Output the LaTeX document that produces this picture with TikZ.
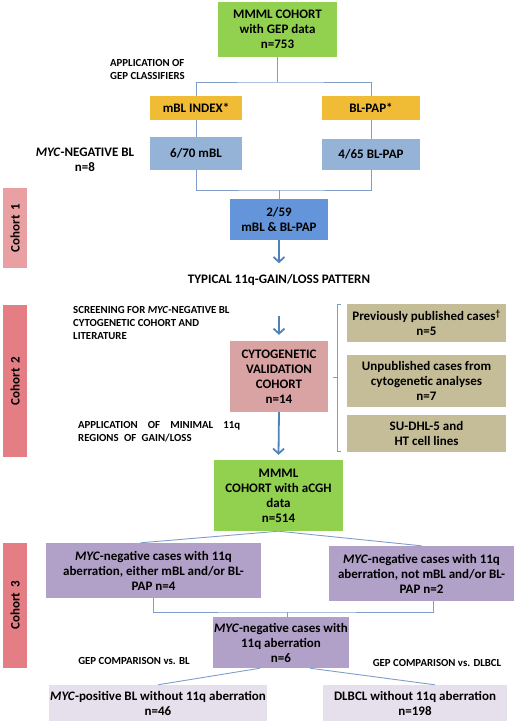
\documentclass[tikz,border=0pt]{standalone}
\usepackage{fontspec}
\setmainfont{Carlito}
\usetikzlibrary{arrows.meta, calc}
\newcommand{\bxfont}{\fontsize{13}{15}\selectfont\bfseries}
\newcommand{\smfont}{\fontsize{10.8}{13}\selectfont\bfseries}
\definecolor{mgreen}{HTML}{92D050}
\definecolor{mgold}{HTML}{F0BC35}
\definecolor{mlblue}{HTML}{95B3D7}
\definecolor{mmblue}{HTML}{6495DA}
\definecolor{mpink}{HTML}{D9A2A3}
\definecolor{mkhaki}{HTML}{C4BD97}
\definecolor{mpurple}{HTML}{B1A0C7}
\definecolor{mlav}{HTML}{E5E0EC}
\definecolor{mcohA}{HTML}{E9A0A2}
\definecolor{mcohB}{HTML}{E57D84}
\definecolor{mline}{HTML}{7F9DC8}
\definecolor{marrow}{HTML}{4F81BD}
\tikzset{
    box/.style     = {rectangle, inner sep=1pt, align=center, font=\bxfont},
    greenbox/.style  = {box, fill=mgreen},
    goldbox/.style   = {box, fill=mgold},
    lbluebox/.style  = {box, fill=mlblue},
    mbluebox/.style  = {box, fill=mmblue},
    pinkbox/.style   = {box, fill=mpink},
    khakibox/.style  = {box, fill=mkhaki, minimum width=159},
    purplebox/.style = {box, fill=mpurple},
    lavbox/.style    = {box, fill=mlav, minimum height=36},
    cohort/.style    = {box, rotate=90, minimum height=24},
    note/.style      = {inner sep=0pt, font=\smfont, align=left},
    link/.style      = {draw=mline, line width=0.9pt},
    flow/.style      = {draw=marrow, line width=1.8pt, -{Straight Barb[length=5pt,width=11pt]}},
}

\begin{document}
\begin{tikzpicture}[x=1pt, y=-1pt]
  \useasboundingbox (0,0) rectangle (520,723);
  % cohort 1
  \node [name=ggep, greenbox, minimum width=119, minimum height=55] at (277.5,29.5) {MMML COHORT\\with GEP data\\n=753};
  \node [name=mblidx, goldbox, minimum width=92, minimum height=24] at (196,108) {mBL INDEX*};
  \node [name=blpap, goldbox, minimum width=98, minimum height=24] at (371,108) {BL-PAP*};
  \node [name=mblneg, lbluebox, minimum width=92, minimum height=33] at (196,153.5) {6/70 mBL};
  \node [name=blpapneg, lbluebox, minimum width=98, minimum height=31] at (371,154.5) {4/65 BL-PAP};
  \node [name=both, mbluebox, minimum width=98, minimum height=41] at (279,219.5) {2/59\\mBL \& BL-PAP};
  \node [name=typical, box, inner sep=0pt] at (279,280) {TYPICAL 11q-GAIN/LOSS PATTERN};
  \node [name=gepcls, note, anchor=west] at (110,69) {APPLICATION OF\\GEP CLASSIFIERS};
  \node [name=mycneg, box, inner sep=0pt] at (85,160) {\textit{MYC}-NEGATIVE BL\\n=8};
  \node [name=coh1, cohort, fill=mcohA, minimum width=80] at (15,228) {Cohort\, 1};
  \coordinate (split1) at (ggep.south |- 0,82);
  \coordinate (split2) at (both.north |- 0,190);
  \draw [link] (ggep.south) -- (split1);
  \draw [link] (mblidx.north) |- (split1) -| (blpap.north);
  \draw [link] (mblidx.south) -- (mblneg.north);
  \draw [link] (blpap.south) -- (blpapneg.north);
  \draw [link] (mblneg.south) |- (split2) -| (blpapneg.south);
  \draw [link] (split2) -- (both.north);
  \draw [flow] (both.south) -- ([yshift=11pt]typical.north);
  % cohort 2
  \node [name=cyto, pinkbox, minimum width=98, minimum height=71] at (279,376.5) {CYTOGENETIC\\VALIDATION\\COHORT\\n=14};
  \node [name=prevpub, khakibox, minimum height=38] at (426.5,322.5) {Previously published cases\textsuperscript{†}\\n=5};
  \node [name=unpub, khakibox, minimum height=52] at (426.5,381) {Unpublished cases from\\cytogenetic analyses\\n=7};
  \node [name=celllines, khakibox, minimum height=37] at (426.5,433.5) {SU-DHL-5 and\\HT cell lines};
  \node [name=screen, note, anchor=north west] at (73,306) {SCREENING FOR \textit{MYC}-NEGATIVE BL\\CYTOGENETIC COHORT AND\\LITERATURE};
  \node [name=minreg, note, anchor=north west, text width=162] at (78,421) {APPLICATION\hfill OF\hfill MINIMAL\hfill 11q\\REGIONS\, OF\, GAIN/LOSS};
  \node [name=coh2, cohort, fill=mcohB, minimum width=152] at (15,381) {Cohort\, 2};
  \coordinate (scrtop) at (279,316);
  \draw [flow] (scrtop) -- ([yshift=6pt]cyto.north);
  \draw [link, line width=0.7pt] (341,304) -- (337,304) -- (337,451) -- (341,451) (337,377) -- (333,377);
  % cohort 3
  \node [name=acgh, greenbox, minimum width=129, minimum height=71] at (278.5,495.5) {MMML\\COHORT with aCGH\\data\\n=514};
  \draw [flow] (cyto.south) -- ([yshift=5pt]acgh.north);
  \node [name=leftp, purplebox, minimum width=215, minimum height=55] at (153.5,570.5) {\textit{MYC}-negative cases with 11q\\aberration, either mBL and/or BL-\\PAP n=4};
  \node [name=rightp, purplebox, minimum width=185, minimum height=55] at (421.5,573.5) {\textit{MYC}-negative cases with 11q\\aberration, not mBL and/or BL-\\PAP n=2};
  \node [name=midp, purplebox, minimum width=132, minimum height=51] at (281,642.5) {\textit{MYC}-negative cases with\\11q aberration\\n=6};
  \node [name=posbl, lavbox, minimum width=210] at (158,703) {\textit{MYC}-positive BL without 11q aberration\\n=46};
  \node [name=dlbcl, lavbox, minimum width=184] at (415,703) {DLBCL without 11q aberration\\n=198};
  \node [name=vsbl, note] at (134,661) {GEP COMPARISON vs. BL};
  \node [name=vsdlbcl, note] at (437,663) {GEP COMPARISON vs. DLBCL};
  \node [name=coh3, cohort, fill=mcohB, minimum width=125] at (15,605.5) {Cohort\, 3};
  \coordinate (split3) at (midp.north |- 0,612);
  \draw [link] (acgh.south) -- ([xshift=-13pt]leftp.north);
  \draw [link] (acgh.south) -- (rightp.north);
  \draw [link] (leftp.south) |- (split3) -| ([xshift=12pt]rightp.south);
  \draw [link] ([xshift=6pt]split3) -- ([xshift=6pt]midp.north);
  \draw [link] ([xshift=-21pt]midp.south) -- (posbl.north);
  \draw [link] ([xshift=29pt]midp.south) -- ([xshift=20pt]dlbcl.north);
\end{tikzpicture}
\end{document}
